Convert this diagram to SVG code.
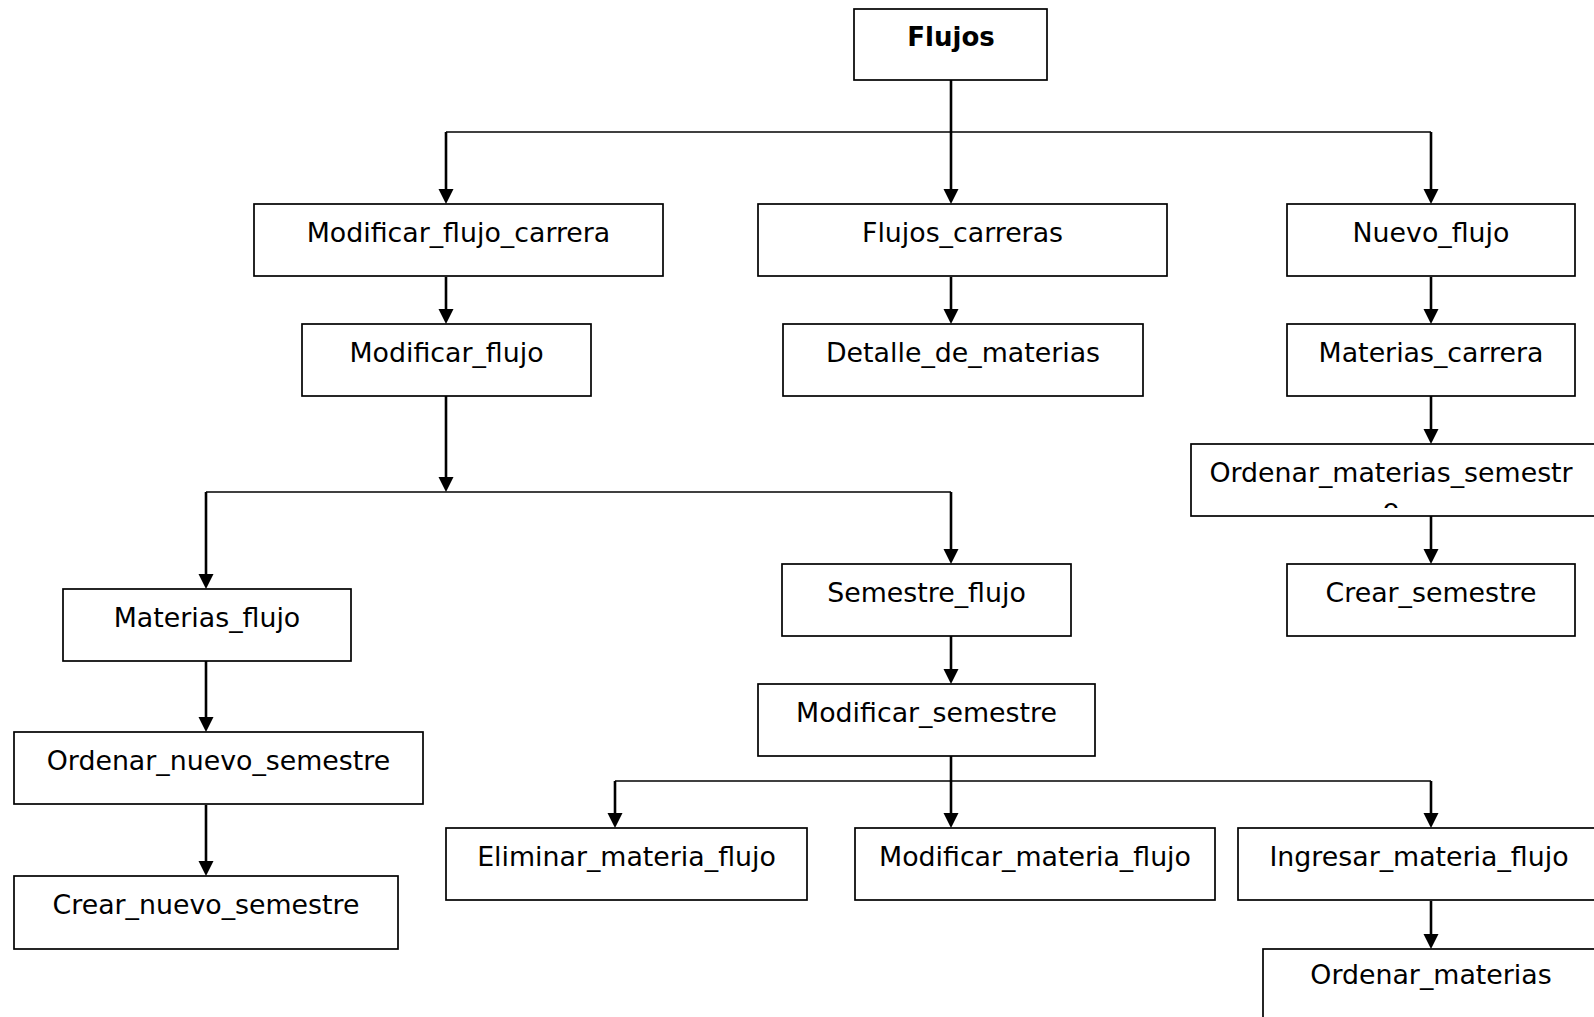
<svg xmlns="http://www.w3.org/2000/svg" width="1594" height="1017" viewBox="0 0 1594 1017">
  <style>
    .box { fill: #ffffff; stroke: #000000; stroke-width: 1.7; }
    .lbl { font-family: "DejaVu Sans", Verdana, sans-serif; font-size: 26.8px; fill: #000000; text-anchor: middle; }
    .bold { font-weight: bold; font-size: 26px; }
    .bus { fill: none; stroke: #000000; stroke-width: 1.6; }
    .drop { fill: none; stroke: #000000; stroke-width: 2.6; marker-end: url(#arrow); }
  </style>
  <defs>
    <marker id="arrow" markerUnits="userSpaceOnUse" markerWidth="16" markerHeight="16" refX="7" refY="7.5" orient="auto">
      <path d="M0,0 L15,7.5 L0,15 Z" fill="#000000"/>
    </marker>
    <clipPath id="clipOMS">
      <rect x="1191" y="444" width="410" height="64"/>
    </clipPath>
  </defs>
  <rect width="1594" height="1017" fill="#ffffff"/>

  <!-- connectors -->
  <g id="connectors">
    <!-- root fan-out -->
    <path class="bus" d="M446,132 H1431"/>
    <path class="drop" d="M951,80 V196"/>
    <path class="drop" d="M446,132 V196"/>
    <path class="drop" d="M1431,132 V196"/>
    <!-- second level -->
    <path class="drop" d="M446,277 V316"/>
    <path class="drop" d="M951,277 V316"/>
    <path class="drop" d="M1431,277 V316"/>
    <!-- right column -->
    <path class="drop" d="M1431,396 V436"/>
    <path class="drop" d="M1431,516 V556"/>
    <!-- Modificar_flujo fan-out -->
    <path class="drop" d="M446,396 V484"/>
    <path class="bus" d="M206,492 H951"/>
    <path class="drop" d="M206,492 V581"/>
    <path class="drop" d="M951,492 V556"/>
    <!-- left column -->
    <path class="drop" d="M206,661 V724"/>
    <path class="drop" d="M206,805 V868"/>
    <!-- semestre branch -->
    <path class="drop" d="M951,636 V676"/>
    <path class="drop" d="M951,756 V820"/>
    <path class="bus" d="M615,781 H1431"/>
    <path class="drop" d="M615,781 V820"/>
    <path class="drop" d="M1431,781 V820"/>
    <path class="drop" d="M1431,901 V941"/>
  </g>

  <!-- nodes -->
  <g id="n-flujos">
    <rect class="box" x="854" y="9" width="193" height="71"/>
    <text class="lbl bold" x="951" y="46">Flujos</text>
  </g>
  <g id="n-modificar-flujo-carrera">
    <rect class="box" x="254" y="204" width="409" height="72"/>
    <text class="lbl" x="458.5" y="242">Modificar_flujo_carrera</text>
  </g>
  <g id="n-flujos-carreras">
    <rect class="box" x="758" y="204" width="409" height="72"/>
    <text class="lbl" x="962.5" y="242">Flujos_carreras</text>
  </g>
  <g id="n-nuevo-flujo">
    <rect class="box" x="1287" y="204" width="288" height="72"/>
    <text class="lbl" x="1431" y="242">Nuevo_flujo</text>
  </g>
  <g id="n-modificar-flujo">
    <rect class="box" x="302" y="324" width="289" height="72"/>
    <text class="lbl" x="446.5" y="362">Modificar_flujo</text>
  </g>
  <g id="n-detalle-de-materias">
    <rect class="box" x="783" y="324" width="360" height="72"/>
    <text class="lbl" x="963" y="362">Detalle_de_materias</text>
  </g>
  <g id="n-materias-carrera">
    <rect class="box" x="1287" y="324" width="288" height="72"/>
    <text class="lbl" x="1431" y="362">Materias_carrera</text>
  </g>
  <g id="n-ordenar-materias-semestre">
    <rect class="box" x="1191" y="444" width="420" height="72"/>
    <g clip-path="url(#clipOMS)">
      <text class="lbl" x="1391" y="482">Ordenar_materias_semestr</text>
      <text class="lbl" x="1391" y="518">o</text>
    </g>
  </g>
  <g id="n-crear-semestre">
    <rect class="box" x="1287" y="564" width="288" height="72"/>
    <text class="lbl" x="1431" y="602">Crear_semestre</text>
  </g>
  <g id="n-materias-flujo">
    <rect class="box" x="63" y="589" width="288" height="72"/>
    <text class="lbl" x="207" y="627">Materias_flujo</text>
  </g>
  <g id="n-semestre-flujo">
    <rect class="box" x="782" y="564" width="289" height="72"/>
    <text class="lbl" x="926.5" y="602">Semestre_flujo</text>
  </g>
  <g id="n-modificar-semestre">
    <rect class="box" x="758" y="684" width="337" height="72"/>
    <text class="lbl" x="926.5" y="722">Modificar_semestre</text>
  </g>
  <g id="n-ordenar-nuevo-semestre">
    <rect class="box" x="14" y="732" width="409" height="72"/>
    <text class="lbl" x="218.5" y="770">Ordenar_nuevo_semestre</text>
  </g>
  <g id="n-crear-nuevo-semestre">
    <rect class="box" x="14" y="876" width="384" height="73"/>
    <text class="lbl" x="206" y="914">Crear_nuevo_semestre</text>
  </g>
  <g id="n-eliminar-materia-flujo">
    <rect class="box" x="446" y="828" width="361" height="72"/>
    <text class="lbl" x="626.5" y="866">Eliminar_materia_flujo</text>
  </g>
  <g id="n-modificar-materia-flujo">
    <rect class="box" x="855" y="828" width="360" height="72"/>
    <text class="lbl" x="1035" y="866">Modificar_materia_flujo</text>
  </g>
  <g id="n-ingresar-materia-flujo">
    <rect class="box" x="1238" y="828" width="370" height="72"/>
    <text class="lbl" x="1419" y="866">Ingresar_materia_flujo</text>
  </g>
  <g id="n-ordenar-materias">
    <rect class="box" x="1263" y="949" width="345" height="80"/>
    <text class="lbl" x="1431" y="984">Ordenar_materias</text>
  </g>
</svg>
